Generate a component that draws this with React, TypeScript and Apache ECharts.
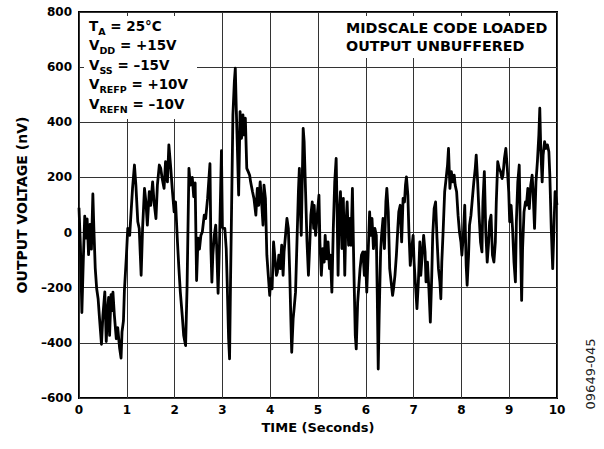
import React, { useEffect, useRef } from "react";
import * as echarts from "echarts";

const FONT = "'DejaVu Sans', 'Liberation Sans', Arial, sans-serif";

// Axis ranges / ticks
const xMin = 0;
const xMax = 10;
const xStep = 1;
const yMin = -600;
const yMax = 800;
const yStep = 200;

// Output noise trace (time in seconds, voltage in nV)
const segA: [number, number][] = [
  [0.0, 90], [0.03, -50], [0.06, -290], [0.09, -100], [0.12, 60], [0.14, -20], [0.17, 50], [0.2, -80],
  [0.23, 30], [0.26, -60], [0.29, 140], [0.31, 20], [0.34, -130], [0.37, -204], [0.4, -240], [0.43, -313],
  [0.47, -405], [0.5, -301], [0.54, -215], [0.57, -395], [0.6, -276], [0.62, -235], [0.64, -373], [0.67, -225],
  [0.69, -283], [0.71, -216], [0.74, -300], [0.78, -385], [0.81, -345], [0.85, -420], [0.88, -455], [0.9, -360],
  [0.93, -320], [0.95, -210], [0.99, -90], [1.02, 15], [1.06, -10], [1.09, 75], [1.12, 160], [1.16, 245],
  [1.19, 172], [1.23, 39], [1.26, 15], [1.3, -155], [1.33, 15], [1.37, 160], [1.4, 111], [1.43, 27],
  [1.47, 148], [1.5, 99], [1.54, 184], [1.57, 111], [1.61, 51], [1.64, 172], [1.68, 245], [1.71, 233],
  [1.74, 196], [1.78, 160], [1.81, 257], [1.85, 184], [1.88, 318], [1.92, 233], [1.95, 160], [1.99, 75],
  [2.02, 111], [2.06, -34], [2.09, -131], [2.12, -216], [2.16, -301], [2.19, -373], [2.23, -410], [2.26, -204],
  [2.3, 233], [2.33, 172], [2.37, 200], [2.4, 130],
];

const segB: [number, number][] = [
  [2.43, 180], [2.46, -174], [2.49, -20], [2.52, -60], [2.55, -10], [2.58, 2], [2.62, 63], [2.65, 51],
  [2.69, 124], [2.72, 200], [2.74, 250], [2.76, -60], [2.78, -180], [2.8, -82], [2.83, -10], [2.86, 27],
  [2.88, -50], [2.91, -220], [2.94, -34], [2.98, 297], [3.0, 19], [3.02, 15], [3.05, 15], [3.08, -58],
  [3.1, -179], [3.13, -385], [3.15, -458], [3.17, -179], [3.2, 184], [3.22, 427], [3.25, 548], [3.27, 596],
  [3.29, 451], [3.31, 330], [3.34, 136], [3.37, 439], [3.4, 342], [3.43, 427], [3.45, 354], [3.48, 415],
  [3.51, 233], [3.54, 221], [3.57, 208], [3.59, 184], [3.63, 148], [3.66, 124], [3.7, 63], [3.73, 160],
  [3.76, 99], [3.79, 184], [3.82, 111], [3.85, 27], [3.87, 172], [3.9, 124], [3.93, -82], [3.96, -155],
  [3.99, -228], [4.01, -167], [4.04, -204], [4.07, -34], [4.1, -95], [4.13, -155], [4.15, -143], [4.18, -82],
  [4.21, -131], [4.24, -46], [4.27, -155], [4.29, -70], [4.32, -10], [4.35, 51], [4.38, 15], [4.41, -155],
  [4.43, -301], [4.45, -434], [4.48, -313], [4.5, -276], [4.53, -216], [4.56, -34], [4.59, 148], [4.61, 233],
  [4.63, 87], [4.65, -10], [4.67, 184], [4.69, 378], [4.71, 330], [4.74, 148], [4.77, -34], [4.8, -155],
  [4.83, -34], [4.85, 63], [4.88, 111], [4.91, 15],
];

const segC: [number, number][] = [
  [4.92, 99], [4.95, -10], [4.99, 75], [5.02, 136], [5.04, -34], [5.07, -155], [5.1, -58], [5.13, -107],
  [5.15, -10], [5.18, -95], [5.21, -34], [5.24, -131], [5.26, -82], [5.29, -216], [5.32, 15], [5.35, 184],
  [5.38, 269], [5.4, 75], [5.42, -155], [5.44, 51], [5.47, 148], [5.5, -58], [5.53, 124], [5.56, -155],
  [5.58, 15], [5.61, 111], [5.64, -46], [5.67, 51], [5.69, -46], [5.72, 160], [5.75, -131], [5.78, -373],
  [5.8, -422], [5.83, -252], [5.85, -204], [5.88, -131], [5.91, -82], [5.94, -70], [5.97, -155], [5.99, -70],
  [6.02, -216], [6.05, -70], [6.08, 75], [6.1, -10], [6.13, 51], [6.16, -58], [6.19, 15], [6.22, -10],
  [6.24, -228], [6.26, -495], [6.28, -301], [6.31, -70], [6.33, -10], [6.36, 51], [6.39, -58], [6.42, 111],
  [6.44, 160], [6.47, 75], [6.5, -131], [6.53, -179], [6.56, -228], [6.58, -204], [6.61, -155], [6.64, -82],
  [6.67, 15], [6.69, 75], [6.72, 99], [6.75, -34], [6.78, 124], [6.81, 111], [6.83, 172], [6.85, 202],
  [6.88, 136], [6.9, 15], [6.93, -119], [6.96, -58], [6.99, -10], [7.01, -107], [7.04, -191], [7.07, -276],
  [7.1, -179], [7.13, -34], [7.15, -155], [7.18, -82], [7.21, -10], [7.24, -70], [7.26, -179], [7.29, -107],
  [7.32, -204], [7.35, -325], [7.38, -155], [7.4, -10],
];

const segD: [number, number][] = [
  [7.43, 87], [7.46, 111], [7.49, -22], [7.52, -131], [7.55, -179], [7.57, -240], [7.59, -107], [7.62, 15],
  [7.65, 148], [7.68, 196], [7.71, 245], [7.73, 305], [7.76, 160], [7.79, 221], [7.82, 184], [7.85, 208],
  [7.87, 172], [7.9, 148], [7.93, 63], [7.96, 2], [7.99, -34], [8.01, -82], [8.04, -10], [8.07, 99],
  [8.1, -119], [8.12, -191], [8.15, -82], [8.17, 27], [8.2, 63], [8.23, 124], [8.26, 184], [8.29, 233],
  [8.31, 281], [8.34, 184], [8.37, 63], [8.4, -34], [8.43, -70], [8.45, 111], [8.48, 221], [8.51, 2],
  [8.54, -107], [8.57, -34], [8.59, 39], [8.62, 63], [8.65, -82], [8.68, -107], [8.71, -34], [8.73, 111],
  [8.76, 257], [8.79, 233], [8.82, 221], [8.85, 196], [8.87, 208], [8.9, 269], [8.93, 305], [8.96, 233],
  [8.99, 148], [9.01, 39], [9.04, 99], [9.07, 15], [9.1, -107], [9.13, -179], [9.15, 39], [9.18, 184],
  [9.21, 245], [9.24, -58], [9.26, -246], [9.28, -58], [9.31, 75], [9.34, 111], [9.36, 99], [9.39, 160],
  [9.42, 87], [9.45, 172], [9.48, 208], [9.5, 148], [9.53, 15], [9.56, 184], [9.59, 257], [9.62, 354],
  [9.64, 451], [9.66, 305], [9.69, 184], [9.71, 281], [9.74, 330], [9.77, 305], [9.8, 318], [9.83, 293],
  [9.85, 208], [9.88, 15], [9.91, -131], [9.94, 39], [9.96, 148], [10.0, 100],
];

// Annotation texts: [symbol, subscript, rest]
const conditionLines: [string, string, string][] = [
  ["T", "A", " = 25°C"],
  ["V", "DD", " = +15V"],
  ["V", "SS", " = –15V"],
  ["V", "REFP", " = +10V"],
  ["V", "REFN", " = –10V"],
];
const noteLines = ["MIDSCALE CODE LOADED", "OUTPUT UNBUFFERED"];
const figureCode = "09649-045";

export default function App() {
  const ref = useRef<HTMLDivElement>(null);

  useEffect(() => {
    if (!ref.current) return;
    const chart = echarts.init(ref.current, null, { renderer: "svg" });

    const data = [...segA, ...segB, ...segC, ...segD];

    const mainSize = 13.5;
    const subSize = 9.5;
    const ctx = document.createElement("canvas").getContext("2d");
    const measure = (txt: string, size: number) => {
      if (!ctx) return txt.length * size * 0.7;
      ctx.font = `bold ${size}px ${FONT}`;
      return ctx.measureText(txt).width;
    };

    const graphics: any[] = [
      { type: "rect", z: 50, shape: { x: 84, y: 16, width: 113, height: 103 }, style: { fill: "#fff" } },
      { type: "rect", z: 50, shape: { x: 321, y: 16, width: 233, height: 42 }, style: { fill: "#fff" } },
    ];

    conditionLines.forEach(([sym, sub, rest], i) => {
      const yMid = 26 + i * 19.4;
      const x0 = 89;
      const x1 = x0 + measure(sym, mainSize);
      const x2 = x1 + measure(sub, subSize);
      const common = { textAlign: "left", textVerticalAlign: "middle", fill: "#000" };
      graphics.push(
        { type: "text", z: 60, x: x0, y: yMid, style: { ...common, text: sym, font: `bold ${mainSize}px ${FONT}` } },
        { type: "text", z: 60, x: x1, y: yMid + 5.5, style: { ...common, text: sub, font: `bold ${subSize}px ${FONT}` } },
        { type: "text", z: 60, x: x2, y: yMid, style: { ...common, text: rest, font: `bold ${mainSize}px ${FONT}` } }
      );
    });

    noteLines.forEach((t, i) => {
      graphics.push({
        type: "text",
        z: 60,
        x: 346,
        y: 27.8 + i * 18.5,
        style: {
          text: t,
          fill: "#000",
          font: `bold 14.3px ${FONT}`,
          textAlign: "left",
          textVerticalAlign: "middle",
        },
      });
    });

    graphics.push({
      type: "text",
      z: 60,
      x: 590,
      y: 374,
      rotation: Math.PI / 2,
      style: {
        text: figureCode,
        fill: "#222",
        font: `13px ${FONT}`,
        textAlign: "center",
        textVerticalAlign: "middle",
      },
    });

    chart.setOption({
      animation: false,
      backgroundColor: "#fff",
      grid: {
        left: 79,
        right: 47,
        top: 12,
        bottom: 51,
        show: true,
        borderColor: "#000",
        borderWidth: 2,
        backgroundColor: "transparent",
      },
      xAxis: {
        type: "value",
        min: xMin,
        max: xMax,
        interval: xStep,
        name: "TIME (Seconds)",
        nameLocation: "middle",
        nameGap: 22,
        nameTextStyle: { fontFamily: FONT, fontWeight: "bold", fontSize: 13, color: "#000" },
        axisLine: { show: false },
        axisTick: { show: false },
        axisLabel: { fontFamily: FONT, fontWeight: "bold", fontSize: 12, color: "#000", margin: 6 },
        splitLine: { show: true, lineStyle: { color: "#333", width: 1 } },
      },
      yAxis: {
        type: "value",
        min: yMin,
        max: yMax,
        interval: yStep,
        name: "OUTPUT VOLTAGE (nV)",
        nameLocation: "middle",
        nameGap: 50,
        nameTextStyle: { fontFamily: FONT, fontWeight: "bold", fontSize: 14, color: "#000" },
        axisLine: { show: false },
        axisTick: { show: false },
        axisLabel: {
          fontFamily: FONT,
          fontWeight: "bold",
          fontSize: 12,
          color: "#000",
          margin: 7,
          formatter: (v: number) => (v < 0 ? "–" + Math.abs(v) : String(v)),
        },
        splitLine: { show: true, lineStyle: { color: "#333", width: 1 } },
      },
      series: [
        {
          type: "line",
          data,
          showSymbol: false,
          symbol: "none",
          lineStyle: { color: "#000", width: 2.8, join: "round" },
          z: 5,
        },
      ],
      graphic: graphics,
    });

    return () => chart.dispose();
  }, []);

  return <div ref={ref} style={{ position: "fixed", left: 0, top: 0, width: 604, height: 449 }} />;
}
